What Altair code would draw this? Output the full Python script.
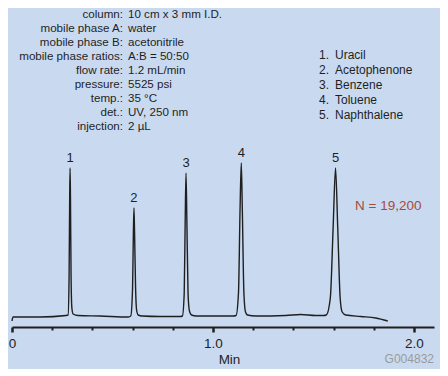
import altair as alt
import pandas as pd

# ---- data ----
trace_time = [0.000, 0.005, 0.140, 0.269, 0.279, 0.284, 0.287, 0.289, 0.291, 0.294, 0.298, 0.304, 0.329,
              0.439, 0.579, 0.591, 0.600, 0.604, 0.607, 0.610, 0.615, 0.620, 0.628, 0.648,
              0.738, 0.838, 0.848, 0.857, 0.862, 0.866, 0.870, 0.876, 0.883, 0.893, 0.918,
              1.012, 1.102, 1.115, 1.127, 1.135, 1.141, 1.146, 1.154, 1.162, 1.172, 1.212,
              1.362, 1.436, 1.511, 1.551, 1.564, 1.584, 1.598, 1.610, 1.621, 1.633, 1.643, 1.661,
              1.736, 1.810, 1.870]
trace_signal = [-3, 1, 1, 2.5, 3, 40, 120, 150, 120, 40, 10, 4, 2.5,
                2, 1, 2, 30, 85, 110, 85, 30, 8, 3, 2,
                1.5, 1.5, 2, 25, 100, 145, 100, 25, 7, 3, 2,
                2, 2, 2.5, 25, 110, 155, 110, 25, 6, 3, 2,
                2.5, 3.5, 2.5, 2.5, 3, 20, 90, 150, 90, 20, 6, 3,
                1.5, 0, -3]

peak_ids = ["1", "2", "3", "4", "5"]
peak_time = [0.289, 0.607, 0.866, 1.141, 1.610]
peak_height = [150, 110, 145, 155, 150]

compound_names = ["Uracil", "Acetophenone", "Benzene", "Toluene", "Naphthalene"]

cond_labels = ["column:", "mobile phase A:", "mobile phase B:", "mobile phase ratios:",
               "flow rate:", "pressure:", "temp.:", "det.:", "injection:"]
cond_values = ["10 cm x 3 mm I.D.", "water", "acetonitrile", "A:B = 50:50",
               "1.2 mL/min", "5525 psi", "35 \u00b0C", "UV, 250 nm", "2 \u00b5L"]

efficiency_note = "N = 19,200"
figure_code = "G004832"

tick_values = [0, 0.1, 0.2, 0.3, 0.4, 0.5, 0.6, 0.7, 0.8, 0.9, 1.0,
               1.1, 1.2, 1.3, 1.4, 1.5, 1.6, 1.7, 1.8, 1.9, 2.0, 2.1]
label_values = [0, 1.0, 2.0]
label_texts = ["0", "1.0", "2.0"]

# ---- styling ----
FONT = "Liberation Sans"
BG = "#c9daf0"
INK = "#1f1f1f"

trace_df = pd.DataFrame({"t": trace_time, "s": trace_signal})
peaks_df = pd.DataFrame({"id": peak_ids, "t": peak_time, "h": peak_height})
one = pd.DataFrame({"a": [0]})

label_expr = " : ".join(
    f"datum.value === {v} ? '{txt}'" for v, txt in zip(label_values, label_texts)
) + " : ''"

xscale = alt.Scale(domain=[0, 2.1], nice=False, zero=False)
yscale = alt.Scale(domain=[-9, 310], nice=False, zero=False)

xaxis = alt.Axis(
    values=tick_values,
    labelExpr=label_expr,
    labelOverlap=False,
    labelFont=FONT, labelFontSize=13.5, labelColor=INK, labelPadding=4,
    labelFlush=False,
    tickSize={"condition": {"test": "datum.value % 1 === 0", "value": 5}, "value": 3},
    tickWidth={"condition": {"test": "datum.value % 1 === 0", "value": 2.5}, "value": 2},
    tickColor=INK,
    domainColor=INK, domainWidth=2,
    grid=False,
    title="Min", titleFont=FONT, titleFontSize=13.5, titleFontWeight="normal",
    titleColor=INK, titlePadding=3, titleX=217,
)

line = alt.Chart(trace_df).mark_line(
    color=INK, strokeWidth=1.4, interpolate="monotone"
).encode(
    x=alt.X("t:Q", scale=xscale, axis=xaxis),
    y=alt.Y("s:Q", scale=yscale, axis=None),
)

peak_labels = alt.Chart(peaks_df).mark_text(
    font=FONT, fontSize=13, color=INK, baseline="middle", dy=-10
).encode(
    x=alt.X("t:Q", scale=xscale),
    y=alt.Y("h:Q", scale=yscale),
    text="id:N",
)

info_left = alt.Chart(one).mark_text(
    text=cond_labels, font=FONT, fontSize=11.6, color=INK, align="right",
    baseline="top", lineHeight=14.05
).encode(x=alt.value(111), y=alt.value(1))

info_right = alt.Chart(one).mark_text(
    text=cond_values, font=FONT, fontSize=11.6, color=INK, align="left",
    baseline="top", lineHeight=14.05
).encode(x=alt.value(116), y=alt.value(1))

num_list = alt.Chart(one).mark_text(
    text=[f"{i}." for i in peak_ids], font=FONT, fontSize=12, color=INK, align="left",
    baseline="top", lineHeight=15
).encode(x=alt.value(307), y=alt.value(42))

name_list = alt.Chart(one).mark_text(
    text=compound_names, font=FONT, fontSize=12, color=INK, align="left",
    baseline="top", lineHeight=15
).encode(x=alt.value(323), y=alt.value(42))

n_text = alt.Chart(one).mark_text(
    text=efficiency_note, font=FONT, fontSize=13.5, color="#a64b3c", align="left",
    baseline="middle"
).encode(x=alt.value(343), y=alt.value(198))

code_text = alt.Chart(one).mark_text(
    text=figure_code, font=FONT, fontSize=12, color="#9a9a9a", align="right",
    baseline="middle"
).encode(x=alt.value(422), y=alt.value(351))

chart = alt.layer(
    line, peak_labels, info_left, info_right, num_list, name_list, n_text, code_text
).properties(
    width=422, height=319, background=BG,
    autosize=alt.AutoSizeParams(type="none"),
    padding={"left": 4, "top": 0, "right": 6, "bottom": 42},
).configure_view(stroke=None)

chart.save("out.html", embed_options={"renderer": "svg", "actions": False})
